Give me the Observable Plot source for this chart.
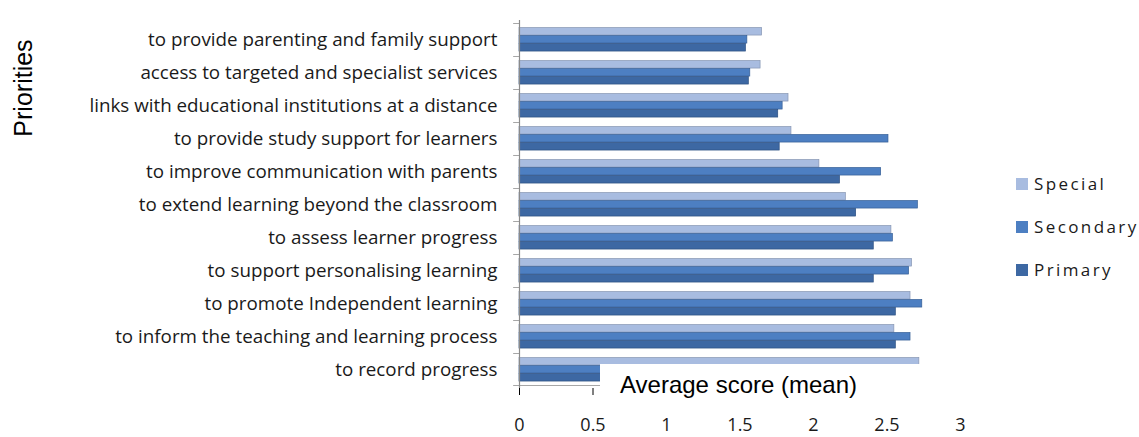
<!DOCTYPE html>
<html><head><meta charset="utf-8">
<script src="https://cdn.jsdelivr.net/npm/d3@7"></script>
<script src="https://cdn.jsdelivr.net/npm/@observablehq/plot@0.6"></script>
<style>
body{margin:0;background:#fff;}
#wrap{position:relative;width:1139px;height:437px;overflow:hidden;background:#fff}
#wrap svg{position:absolute;left:0;top:0}
#wrap svg g[aria-label^="y-axis"] text{font-family:"Open Sans",sans-serif;font-size:18.8px;fill:#1a1a1a}
#wrap svg g[aria-label^="x-axis"] text{font-family:"Open Sans",sans-serif;font-size:18px;fill:#1a1a1a}
.ylab{position:absolute;left:23px;top:88px;font:25px "Liberation Sans",Arial,sans-serif;color:#000;transform:translate(-50%,-50%) rotate(-90deg);white-space:nowrap}
.xbox{position:absolute;left:600px;top:364px;width:380px;height:46px;background:#fff}
.xlab{position:absolute;left:20px;top:7px;font:24px "Liberation Sans",Arial,sans-serif;color:#000;white-space:nowrap}
.legend{position:absolute;left:1016px;top:0;font:17px "Open Sans",sans-serif;letter-spacing:2.4px;color:#1a1a1a}
.li{position:absolute;left:0;white-space:nowrap;display:flex;align-items:center}
.sw{width:12px;height:12px;margin-right:6px;display:inline-block}
</style></head>
<body><div id="wrap"></div>
<script>
const categories = [
  "to provide parenting and family support",
  "access to targeted and specialist services",
  "links with educational institutions at a distance",
  "to provide study support for learners",
  "to improve communication with parents",
  "to extend learning beyond the classroom",
  "to assess learner progress",
  "to support personalising learning",
  "to promote Independent learning",
  "to inform the teaching and learning process",
  "to record progress"
];
const seriesNames = ["Special", "Secondary", "Primary"];
const special   = [1.65, 1.64, 1.83, 1.85, 2.04, 2.22, 2.53, 2.67, 2.66, 2.55, 2.72];
const secondary = [1.55, 1.57, 1.79, 2.51, 2.46, 2.71, 2.54, 2.65, 2.74, 2.66, 2.60];
const primary   = [1.54, 1.56, 1.76, 1.77, 2.18, 2.29, 2.41, 2.41, 2.56, 2.56, 2.50];
const xTicks = [0, 0.5, 1, 1.5, 2, 2.5, 3];
const colors = ["#a8bce0", "#4d7fc2", "#3d68a3"];
const strokes = ["#8796b3", "#365f96", "#2c4f80"];

const W = 1139, H = 437, mL = 519, mR = 179, mT = 20, mB = 49;
const bw = (H - mT - mB) / categories.length;
const barH = 8, off = 4.5;
const rows = categories.map((c, i) => ({c, Special: special[i], Secondary: secondary[i], Primary: primary[i]}));

const seriesMarks = seriesNames.map((name, k) => Plot.barX(rows, {
  y: "c", x1: 0, x2: name,
  fill: colors[k], stroke: strokes[k], strokeWidth: 0.7,
  insetTop: off + k * barH, insetBottom: bw - off - (k + 1) * barH
}));

const chart = Plot.plot({
  width: W, height: H,
  marginLeft: mL, marginRight: mR, marginTop: mT, marginBottom: mB,
  style: {background: "transparent", fontFamily: "Open Sans, sans-serif"},
  x: {domain: [0, 3], ticks: xTicks, tickFormat: d => String(d), tickSize: 7, tickPadding: 23, label: null},
  y: {domain: categories, padding: 0, tickSize: 0, tickPadding: 22, label: null},
  marks: [
    ...seriesMarks,
    Plot.ruleX([0], {stroke: "#8a8a8a", strokeWidth: 1.2}),
    Plot.barX(categories, {y: d => d, x1: -0.04, x2: 0, fill: "#8a8a8a", insetBottom: bw - 1.2}),
    Plot.barX([categories[categories.length - 1]], {y: d => d, x1: -0.04, x2: 3, fill: "#8a8a8a", insetTop: bw - 1.2})
  ]
});
const wrap = document.getElementById("wrap");
wrap.appendChild(chart);

const yl = document.createElement("div");
yl.className = "ylab"; yl.textContent = "Priorities";
wrap.appendChild(yl);

const box = document.createElement("div");
box.className = "xbox";
box.innerHTML = '<div class="xlab">Average score (mean)</div>';
wrap.appendChild(box);

const lg = document.createElement("div");
lg.className = "legend";
const legendY = [184, 227, 270];
seriesNames.forEach((n, k) => {
  const it = document.createElement("div");
  it.className = "li";
  it.style.top = (legendY[k] - 12) + "px";
  it.innerHTML = `<span class="sw" style="background:${colors[k]}"></span><span>${n}</span>`;
  lg.appendChild(it);
});
wrap.appendChild(lg);
</script>
</body></html>
